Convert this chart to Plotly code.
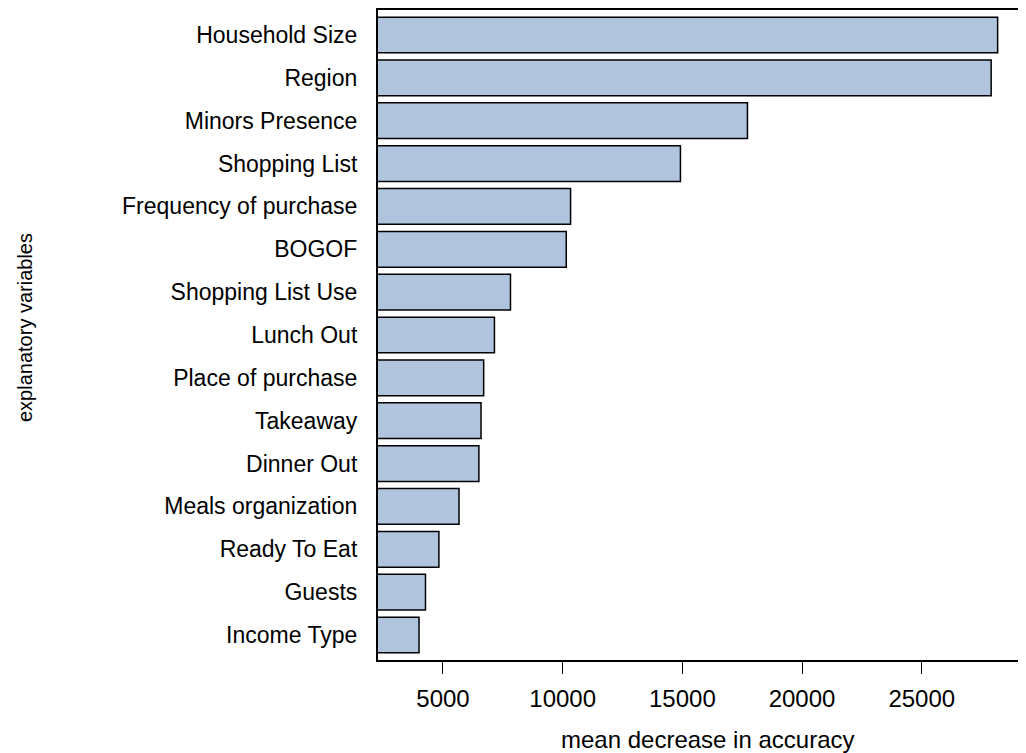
import plotly.graph_objects as go

variables = ["Household Size", "Region", "Minors Presence", "Shopping List",
             "Frequency of purchase", "BOGOF", "Shopping List Use", "Lunch Out",
             "Place of purchase", "Takeaway", "Dinner Out", "Meals organization",
             "Ready To Eat", "Guests", "Income Type"]
mean_decrease = [28170, 27900, 17720, 14920, 10330, 10150, 7820, 7150,
                 6700, 6590, 6500, 5670, 4830, 4270, 4000]
tick_values = [5000, 10000, 15000, 20000, 25000]

# page body adds an 8px offset; figure laid out in page coords minus 8
OFF = 8
W, H = 1026 - OFF, 753 - OFF
L, R, T, B = 378 - OFF, 0, 0, 753 - 660
PW, PH = W - L - R, H - T - B

fig = go.Figure(go.Bar(
    x=mean_decrease, y=variables, orientation="h",
    marker=dict(color="#B0C4DE", line=dict(color="black", width=1.5)),
))

font = "Liberation Sans, Arial, Helvetica, sans-serif"
fig.update_layout(
    width=W, height=H,
    margin=dict(l=L, r=R, t=T, b=B, pad=0),
    paper_bgcolor="white", plot_bgcolor="white",
    bargap=1 - 1 / 1.2,
    showlegend=False,
    font=dict(family=font, color="black"),
    xaxis=dict(
        range=[2286, 29355], tickvals=tick_values,
        ticktext=[str(v) for v in tick_values],
        ticks="outside", ticklen=12, tickwidth=1.4, tickcolor="black",
        tickfont=dict(size=24, family=font, color="black"),
        ticklabelstandoff=4,
        showline=True, linecolor="black", linewidth=1.5, mirror=True,
        showgrid=False, zeroline=False,
    ),
    yaxis=dict(
        type="category", categoryarray=variables,
        range=[14.5833, -0.5833],
        ticks="", ticklabelstandoff=14,
        tickfont=dict(size=23, family=font, color="black"),
        showline=True, linecolor="black", linewidth=2.2,
        showgrid=False, zeroline=False,
    ),
    annotations=[
        dict(text="mean decrease in accuracy", xref="paper", yref="paper",
             x=(707 - 378) / PW, y=-(740 - 660) / PH,
             xanchor="center", yanchor="middle", showarrow=False,
             font=dict(size=24, family=font, color="black")),
        dict(text="explanatory variables", xref="paper", yref="paper",
             x=-(378 - 25) / PW, y=1 - (327 - 8) / PH,
             xanchor="center", yanchor="middle", showarrow=False, textangle=-90,
             font=dict(size=20, family=font, color="black")),
    ],
)

fig.write_html("out.html")
